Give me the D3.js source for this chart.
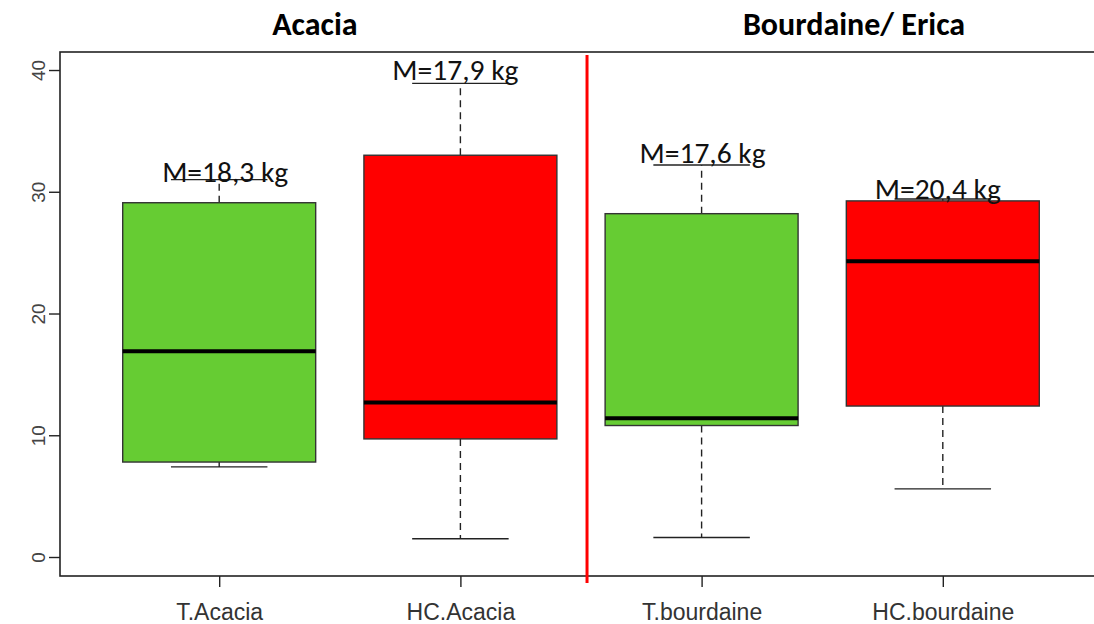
<!DOCTYPE html>
<html>
<head>
<meta charset="utf-8">
<script src="https://cdn.jsdelivr.net/npm/d3@7"></script>
<style>
  html, body { margin: 0; padding: 0; background: #fff; }
  svg { display: block; }
</style>
</head>
<body>
<svg id="chart" width="1094" height="624"></svg>
<script>
// Groups (left to right) and their five-number summaries
const categories = ["T.Acacia", "HC.Acacia", "T.bourdaine", "HC.bourdaine"];
const whiskerLow  = [7.4, 1.5, 1.6, 5.6];
const q1          = [7.8, 9.7, 10.8, 12.4];
const median      = [16.9, 12.7, 11.4, 24.3];
const q3          = [29.1, 33.0, 28.2, 29.25];
const whiskerHigh = [31.0, 38.9, 32.2, 29.4];
const fills       = ["#66cc33", "#ff0000", "#66cc33", "#ff0000"];

// Mean annotations above each box
const meanLabels = ["M=18,3 kg", "M=17,9 kg", "M=17,6 kg", "M=20,4 kg"];

// Panel headings and where they are centred on the category axis
const groupTitles = ["Acacia", "Bourdaine/ Erica"];
const groupTitlePos = [1.397, 3.632];

// Red separator between the two species
const dividerAt = 2.525;

const yTicks = [0, 10, 20, 30, 40];

const svg = d3.select("#chart");

// Plot frame
const frame = { left: 60, right: 1102, top: 52, bottom: 576 };

// Category positions 1..4, with the usual 4% padding around 0.5..4.5
const x = d3.scaleLinear().domain([0.34, 4.66]).range([frame.left, frame.right]);
const y = d3.scaleLinear().domain([-1.56, 41.48]).range([frame.bottom, frame.top]);
const boxWidth = x(1.4) - x(0.6);

const data = categories.map((c, i) => ({
  name: c, pos: i + 1,
  lo: whiskerLow[i], q1: q1[i], med: median[i], q3: q3[i], hi: whiskerHigh[i],
  fill: fills[i], label: meanLabels[i]
}));

// Frame
svg.append("rect")
  .attr("x", frame.left).attr("y", frame.top)
  .attr("width", frame.right - frame.left).attr("height", frame.bottom - frame.top)
  .attr("fill", "none").attr("stroke", "#222").attr("stroke-width", 1.6);

// Y axis
const yAxis = svg.append("g").attr("transform", `translate(${frame.left},0)`)
  .call(d3.axisLeft(y).tickValues(yTicks).tickSize(11).tickPadding(0).tickFormat(d3.format("d")));
yAxis.select(".domain").remove();
yAxis.selectAll(".tick line").attr("stroke", "#222").attr("stroke-width", 1.4);
yAxis.selectAll(".tick text")
  .attr("transform", "rotate(-90)")
  .attr("x", 0).attr("y", -15)
  .attr("dy", 0)
  .attr("text-anchor", "middle")
  .style("font-family", "'Liberation Sans', Arial, sans-serif")
  .style("font-size", "19px")
  .attr("fill", "#444");

// X axis
const xAxis = svg.append("g").attr("transform", `translate(0,${frame.bottom})`)
  .call(d3.axisBottom(x).tickValues(data.map(d => d.pos)).tickSize(11).tickPadding(17)
    .tickFormat((d, i) => categories[i]));
xAxis.select(".domain").remove();
xAxis.selectAll(".tick line").attr("stroke", "#222").attr("stroke-width", 1.4);
xAxis.selectAll(".tick text")
  .style("font-family", "'Liberation Sans', Arial, sans-serif")
  .style("font-size", "23px")
  .attr("fill", "#333");

// Boxes
const g = svg.append("g").selectAll("g").data(data).join("g");

// Dashed whiskers
g.append("line")
  .attr("x1", d => x(d.pos)).attr("x2", d => x(d.pos))
  .attr("y1", d => y(d.q3)).attr("y2", d => y(d.hi))
  .attr("stroke", "#222").attr("stroke-width", 1.4).attr("stroke-dasharray", "7,5");
g.append("line")
  .attr("x1", d => x(d.pos)).attr("x2", d => x(d.pos))
  .attr("y1", d => y(d.q1)).attr("y2", d => y(d.lo))
  .attr("stroke", "#222").attr("stroke-width", 1.4).attr("stroke-dasharray", "7,5");

// Whisker caps (half the box width)
["lo", "hi"].forEach(k => {
  g.append("line")
    .attr("x1", d => x(d.pos) - boxWidth / 4).attr("x2", d => x(d.pos) + boxWidth / 4)
    .attr("y1", d => y(d[k])).attr("y2", d => y(d[k]))
    .attr("stroke", "#222").attr("stroke-width", 1.4);
});

// Interquartile box
g.append("rect")
  .attr("x", d => x(d.pos) - boxWidth / 2)
  .attr("width", boxWidth)
  .attr("y", d => y(d.q3))
  .attr("height", d => y(d.q1) - y(d.q3))
  .attr("fill", d => d.fill)
  .attr("stroke", "#333").attr("stroke-width", 1.4);

// Median
g.append("line")
  .attr("x1", d => x(d.pos) - boxWidth / 2).attr("x2", d => x(d.pos) + boxWidth / 2)
  .attr("y1", d => y(d.med)).attr("y2", d => y(d.med))
  .attr("stroke", "#000").attr("stroke-width", 4);

// Mean annotations, sitting on the upper whisker cap
const labelDx = [6, -5, 1, -5];
const labelDy = [2, -3, -2, 0];
g.append("text")
  .attr("x", (d, i) => x(d.pos) + labelDx[i])
  .attr("y", (d, i) => y(d.hi) + labelDy[i])
  .attr("text-anchor", "middle")
  .style("font-family", "Carlito, 'Open Sans', 'Noto Sans', sans-serif")
  .style("font-size", "29.5px")
  .attr("fill", "#111")
  .text(d => d.label);

// Divider between the two species groups
svg.append("line")
  .attr("x1", x(dividerAt)).attr("x2", x(dividerAt))
  .attr("y1", frame.top + 3).attr("y2", frame.bottom + 7)
  .attr("stroke", "#ff0000").attr("stroke-width", 3);

// Group headings
groupTitles.forEach((t, i) => {
  svg.append("text")
    .attr("x", x(groupTitlePos[i]))
    .attr("y", 35)
    .attr("text-anchor", "middle")
    .style("font-family", "Carlito, 'Open Sans', 'Noto Sans', sans-serif")
    .style("font-weight", "bold")
    .style("font-size", "32px")
    .attr("fill", "#000")
    .text(t);
});
</script>
</body>
</html>
